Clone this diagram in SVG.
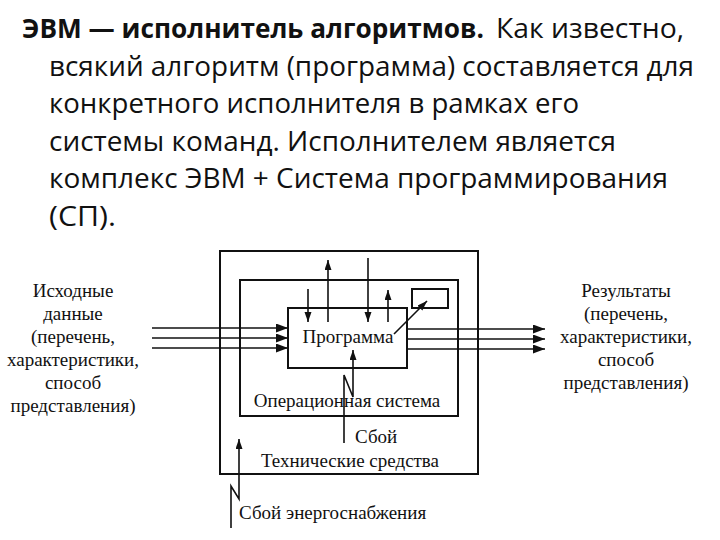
<svg xmlns="http://www.w3.org/2000/svg" width="720" height="540" viewBox="0 0 720 540">
<defs>
<style>
.t{font-family:"Open Sans","Liberation Sans",sans-serif;font-size:27px;fill:#111}
.b{font-weight:bold}
.s{font-family:"Liberation Serif","Times New Roman",serif;font-size:19px;fill:#111}
.m{text-anchor:middle}
.box{fill:none;stroke:#111;stroke-width:2}
.ln{fill:none;stroke:#111;stroke-width:1.6}
</style>
<marker id="ah" markerUnits="userSpaceOnUse" markerWidth="13" markerHeight="9" refX="12" refY="4.5" orient="auto">
<path d="M0,0 L12,4.5 L0,9 Z" fill="#111"/>
</marker>
<marker id="av" markerUnits="userSpaceOnUse" markerWidth="11" markerHeight="8" refX="10" refY="3.5" orient="auto">
<path d="M0,0 L10,3.5 L0,7 Z" fill="#111"/>
</marker>
</defs>
<rect width="720" height="540" fill="#fff"/>

<g id="title">
<text class="t b" x="22" y="38" textLength="462" lengthAdjust="spacingAndGlyphs">ЭВМ — исполнитель алгоритмов.</text>
<text class="t" x="496" y="38" textLength="188" lengthAdjust="spacingAndGlyphs">Как известно,</text>
<text class="t" x="49" y="75.5" textLength="645" lengthAdjust="spacingAndGlyphs">всякий алгоритм (программа) составляется для</text>
<text class="t" x="49" y="113" textLength="530" lengthAdjust="spacingAndGlyphs">конкретного исполнителя в рамках его</text>
<text class="t" x="49" y="150.5" textLength="567" lengthAdjust="spacingAndGlyphs">системы команд. Исполнителем является</text>
<text class="t" x="49" y="188" textLength="619" lengthAdjust="spacingAndGlyphs">комплекс ЭВМ + Система программирования</text>
<text class="t" x="49" y="225.5" textLength="67" lengthAdjust="spacingAndGlyphs">(СП).</text>
</g>

<g id="hardware">
<rect class="box" x="220" y="251" width="258" height="223"/>
<text class="s m" x="350" y="467">Технические средства</text>
</g>

<g id="os">
<rect class="box" x="240" y="280" width="218" height="136"/>
<text class="s m" x="347" y="407">Операционная система</text>
</g>

<g id="program">
<rect class="box" x="288" y="308" width="119" height="60"/>
<text class="s m" x="348" y="343">Программа</text>
</g>

<g id="data-store">
<rect class="box" x="412" y="289" width="36" height="19"/>
</g>

<g id="input">
<text class="s m" x="73" y="297">Исходные</text>
<text class="s m" x="73" y="320">данные</text>
<text class="s m" x="73" y="343">(перечень,</text>
<text class="s m" x="73" y="366">характеристики,</text>
<text class="s m" x="73" y="389">способ</text>
<text class="s m" x="73" y="412">представления)</text>
</g>

<g id="output">
<text class="s m" x="626" y="297">Результаты</text>
<text class="s m" x="626" y="320">(перечень,</text>
<text class="s m" x="626" y="343">характеристики,</text>
<text class="s m" x="626" y="366">способ</text>
<text class="s m" x="626" y="389">представления)</text>
</g>

<g id="failure">
<text class="s" x="355" y="443">Сбой</text>
</g>

<g id="power-failure">
<text class="s" x="239" y="519">Сбой энергоснабжения</text>
</g>

<g id="connectors">
<line class="ln" x1="152" y1="328" x2="288" y2="328" marker-end="url(#ah)"/>
<line class="ln" x1="152" y1="338" x2="288" y2="338" marker-end="url(#ah)"/>
<line class="ln" x1="152" y1="348" x2="288" y2="348" marker-end="url(#ah)"/>
<line class="ln" x1="407" y1="329" x2="545" y2="329" marker-end="url(#ah)"/>
<line class="ln" x1="407" y1="339" x2="545" y2="339" marker-end="url(#ah)"/>
<line class="ln" x1="407" y1="349" x2="545" y2="349" marker-end="url(#ah)"/>
<line class="ln" x1="308" y1="289" x2="308" y2="322" marker-end="url(#av)"/>
<line class="ln" x1="328" y1="322" x2="328" y2="260" marker-end="url(#av)"/>
<line class="ln" x1="368" y1="258" x2="368" y2="322" marker-end="url(#av)"/>
<line class="ln" x1="388" y1="322" x2="388" y2="290" marker-end="url(#av)"/>
<line class="ln" x1="394" y1="334" x2="427" y2="301" marker-end="url(#av)"/>
<path class="ln" d="M344,443 L344,375 L353,397 L353,350" marker-end="url(#av)"/>
<path class="ln" d="M231,528 L231,486 L239,499 L239,439" marker-end="url(#av)"/>
</g>
</svg>
